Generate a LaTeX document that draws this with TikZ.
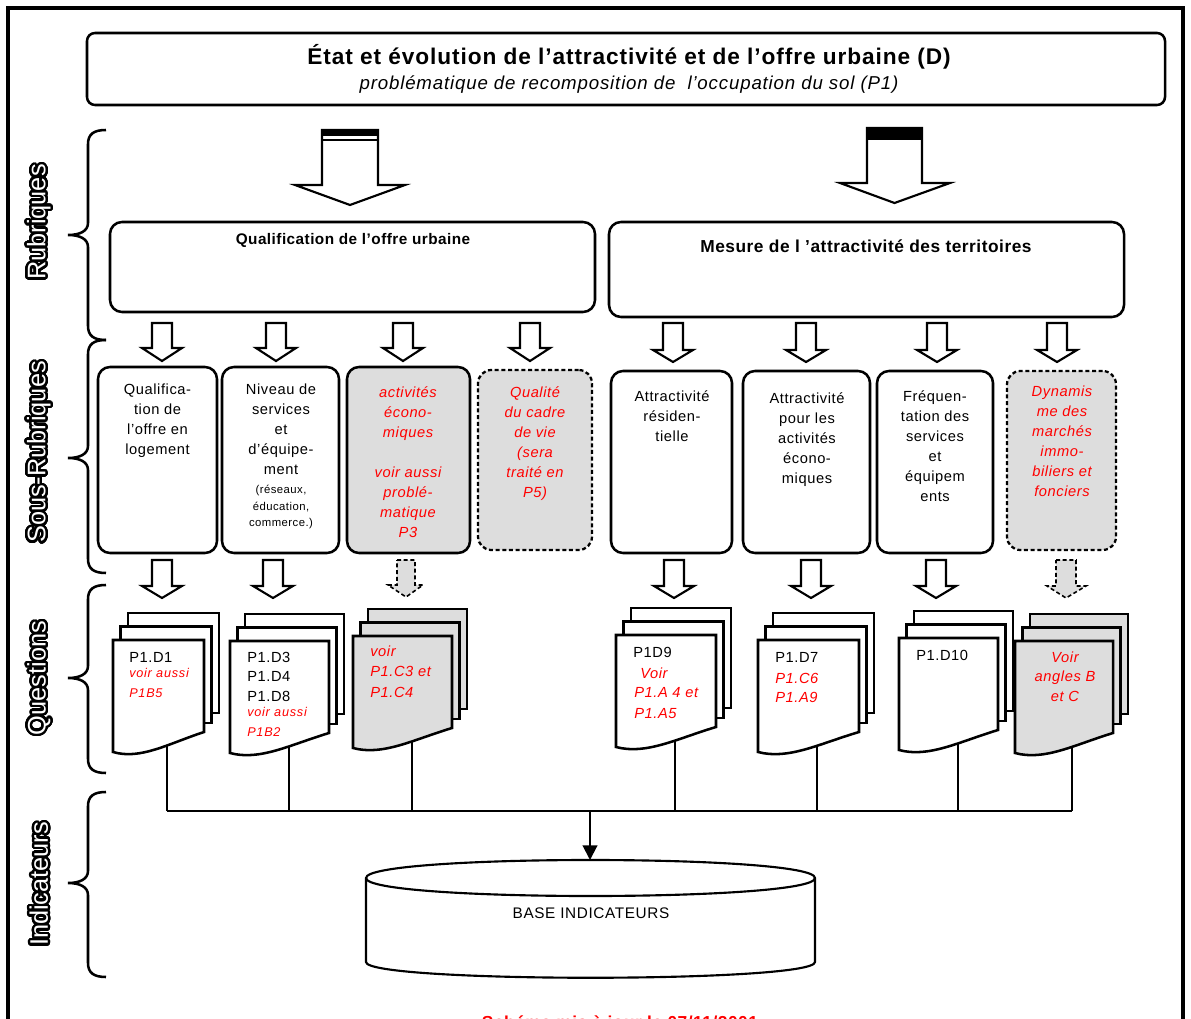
\documentclass[tikz,border=0pt]{standalone}
\usepackage{fontspec}
\setmainfont{Liberation Sans}
\usepackage{contour}
\contourlength{1.8pt}
\contournumber{32}
\usetikzlibrary{arrows.meta}
\definecolor{bgray}{RGB}{221,221,221}
\definecolor{tred}{RGB}{255,0,0}
\newcommand\LS[1]{\addfontfeature{LetterSpace=#1}}
\newcommand\BoxAt[6]{\node[#6, minimum width={(#4-#2)*0.75pt}, minimum height={(#5-#3)*0.75pt}] (#1) at ({(#2+#4)/2},{(#3+#5)/2}) {};}
\newcommand\BArrow[5]{\draw[#5] ({#1-10},#2) -- ({#1+10},#2) -- ({#1+10},#3) -- ({#1+20},#3) -- (#1,#4) -- ({#1-20},#3) -- ({#1-10},#3) -- cycle;}
\newcommand\DocStack[4]{%
  \filldraw[docl, fill=#4] ({#1+15},{#3-27}) rectangle ({#2+15},{#3+73});
  \filldraw[docl, fill=#4] ({#1+7.5},{#3-13.5}) rectangle ({#2+7.5},{#3+83});
  \filldraw[docl, fill=#4] (#1,#3) -- (#2,#3) -- (#2,{#3+92}) .. controls ({#1+0.6*(#2-#1)},{#3+104}) and ({#1+0.3*(#2-#1)},{#3+120}) .. (#1,{#3+112}) -- cycle;}
\newcommand\SideLabel[3]{\node[rotate=90, font=\fontsize{19}{19}\selectfont, inner sep=0pt] (#1) at (40,#2) {\contour{black}{\textcolor{white}{#3}}};}
\newcommand\Brace[4]{%
  \draw[bracel] (106,#2) .. controls (94,#2) and (88,{#2+4}) .. (88,{#2+14}) -- (88,{#3-12}) .. controls (88,{#3-4}) and (80,#3) .. (68,#3) .. controls (80,#3) and (88,{#3+4}) .. (88,{#3+12}) -- (88,{#4-14}) .. controls (88,{#4-4}) and (94,#4) .. (106,#4);
  \coordinate (#1) at (68,#3);}
\begin{document}
\begin{tikzpicture}[x=0.75pt,y=-0.75pt,
  boxl/.style={draw, line width=1.9pt, fill=white, rounded corners=9pt, inner sep=0pt},
  gboxl/.style={boxl, fill=bgray},
  dboxl/.style={draw, line width=1.7pt, fill=bgray, rounded corners=10pt, dash pattern=on 3pt off 2pt, inner sep=0pt},
  arl/.style={draw, line width=1.6pt, fill=white, line join=miter},
  garl/.style={draw, line width=1.2pt, fill=bgray, densely dashed},
  docl/.style={line width=1.9pt, line join=miter},
  bracel/.style={line width=1.9pt},
  conn/.style={line width=1.5pt},
  txt/.style={inner sep=0pt, align=center, font=\fontsize{11}{15}\selectfont\LS{4}},
  rtxt/.style={inner sep=0pt, align=center, text=tred, font=\fontsize{11}{15}\selectfont\itshape\LS{4}},
  dt/.style={anchor=base west, inner sep=0pt, font=\fontsize{11}{13}\selectfont\LS{4}},
  dr/.style={anchor=base west, inner sep=0pt, text=tred, font=\fontsize{11}{13}\selectfont\itshape\LS{4}},
  drs/.style={anchor=base west, inner sep=0pt, text=tred, font=\fontsize{9.5}{11}\selectfont\itshape\LS{6}}]
\useasboundingbox (0,0) rectangle (1191,1019);
% frame
\draw[line width=2.3pt] (8,1040) -- (8,8) -- (1183,8) -- (1183,1040);
% title
\BoxAt{title}{87}{33}{1165}{105}{boxl, rounded corners=6pt}
\node[anchor=base, inner sep=0pt, font=\fontsize{17}{20}\selectfont\bfseries\LS{4}] (t1) at (629,65) {État et évolution de l’attractivité et de l’offre urbaine (D)};
\node[anchor=base, inner sep=0pt, font=\fontsize{14}{16}\selectfont\itshape\LS{4.5}] (t2) at (629,90) {problématique de recomposition de~ l’occupation du sol (P1)};
% braces and side labels
\Brace{br1}{130}{235}{340}
\Brace{br2}{340}{458}{573}
\Brace{br3}{585}{678}{773}
\Brace{br4}{792}{883}{977}
\SideLabel{l1}{222}{Rubriques}
\SideLabel{l2}{452}{Sous-Rubriques}
\SideLabel{l3}{678}{Questions}
\SideLabel{l4}{884}{Indicateurs}
% big arrows
\draw[arl] (322,130) -- (378,130) -- (378,185) -- (405,185) -- (350,205) -- (295,185) -- (322,185) -- cycle;
\fill (322,130) rectangle (378,136);
\draw[line width=1.5pt] (322,140.5) -- (378,140.5);
\draw[arl] (867,128) -- (922,128) -- (922,183) -- (950,183) -- (894.5,203) -- (840,183) -- (867,183) -- cycle;
\fill (867,128) rectangle (922,140);
% rubriques
\BoxAt{rub1}{110}{222}{595}{312}{boxl}
\BoxAt{rub2}{609}{222}{1124}{317}{boxl}
\node[anchor=base, inner sep=0pt, font=\fontsize{11.5}{13}\selectfont\bfseries\LS{3}] (rt1) at (353,245) {Qualification de l’offre urbaine};
\node[anchor=base, inner sep=0pt, font=\fontsize{13}{15}\selectfont\bfseries\LS{3}] (rt2) at (866,252.5) {Mesure de l ’attractivité des territoires};
% row 1 arrows
\foreach \cx in {162,276,403,530} {\BArrow{\cx}{323}{348}{361}{arl}}
\foreach \cx in {673,806,937,1057} {\BArrow{\cx}{323}{350}{362}{arl}}
% sous-rubriques
\BoxAt{s1}{98}{367}{217}{553}{boxl}
\BoxAt{s2}{222}{367}{339}{553}{boxl}
\BoxAt{s3}{347}{367}{470}{553}{gboxl}
\BoxAt{s4}{478}{370}{592}{550}{dboxl}
\BoxAt{s5}{611}{371}{732}{553}{boxl}
\BoxAt{s6}{743}{371}{870}{553}{boxl}
\BoxAt{s7}{877}{371}{993}{553}{boxl}
\BoxAt{s8}{1007}{371}{1116}{550}{dboxl}
\node[txt, anchor=north] (s1t) at (157.5,384) {Qualifica-\\tion de\\l'offre en\\logement};
\node[txt, anchor=north] (s2t) at (281,384) {Niveau de\\services\\et\\d’équipe-\\ment};
\node[txt, anchor=north, font=\fontsize{8.5}{12.5}\selectfont\LS{4}] (s2u) at (281,485) {(réseaux,\\éducation,\\commerce.)};
\node[rtxt, anchor=north] (s3t) at (408,386) {activités\\écono-\\miques\\[15pt]voir aussi\\problé-\\matique\\P3};
\node[rtxt, anchor=north] (s4t) at (535,386) {Qualité\\du cadre\\de vie\\(sera\\traité en\\P5)};
\node[txt, anchor=north] (s5t) at (672,390) {Attractivité\\résiden-\\tielle};
\node[txt, anchor=north] (s6t) at (807,392) {Attractivité\\pour les\\activités\\écono-\\miques};
\node[txt, anchor=north] (s7t) at (935,390) {Fréquen-\\tation des\\services\\et\\équipem\\ents};
\node[rtxt, anchor=north] (s8t) at (1062,386) {Dynamis\\me des\\marchés\\immo-\\biliers et\\fonciers};
% row 2 arrows
\foreach \cx in {162,273,674,811,936} {\BArrow{\cx}{560}{586}{598}{arl}}
\draw[garl] (397,560) -- (415,560) -- (415,585) -- (423,585) -- (406,597) -- (388,585) -- (397,585) -- cycle;
\draw[garl] (1056,560) -- (1076,560) -- (1076,586) -- (1086,586) -- (1066,598) -- (1047,586) -- (1056,586) -- cycle;
% connectors
\foreach \n/\x/\y in {1/167/740, 2/289/741, 3/412/736, 4/675/735, 5/817/740, 6/958/738, 7/1072/741} {
  \coordinate (c\n) at (\x,\y);
  \coordinate (b\n) at (\x,811);
  \draw[conn] (c\n) -- (b\n);
}
\draw[conn] (b1) -- (b7);
\coordinate (bm) at (590,811);
% database
\coordinate (dbtop) at (590,860);
\filldraw[line width=1.6pt, fill=white] (366,878) -- (366,962) .. controls (366,983) and (815,983) .. (815,962) -- (815,878) .. controls (815,854) and (366,854) .. cycle;
\draw[line width=1.6pt] (366,878) .. controls (366,902) and (815,902) .. (815,878);
\node[inner sep=0pt, font=\fontsize{11.5}{13}\selectfont\LS{4}] (dbt) at (591,913) {BASE INDICATEURS};
\draw[conn, -{Triangle[length=11pt, width=11pt]}] (bm) -- (dbtop);
% documents
\DocStack{113}{204}{640}{white}
\DocStack{230}{329}{641}{white}
\DocStack{353}{452}{636}{bgray}
\DocStack{616}{716}{635}{white}
\DocStack{758}{859}{640}{white}
\DocStack{899}{998}{638}{white}
\DocStack{1015}{1113}{641}{bgray}
\node[dt] (q1a) at (129,662) {P1.D1};
\node[drs] (q1b) at (129,677) {voir aussi};
\node[drs] (q1c) at (129,697) {P1B5};
\node[dt] (q2a) at (247,662) {P1.D3};
\node[dt] (q2b) at (247,681) {P1.D4};
\node[dt] (q2c) at (247,701) {P1.D8};
\node[drs] (q2d) at (247,716) {voir aussi};
\node[drs] (q2e) at (247,736) {P1B2};
\node[dr] (q3a) at (370,656) {voir};
\node[dr] (q3b) at (370,676) {P1.C3 et};
\node[dr] (q3c) at (370,697) {P1.C4};
\node[dt] (q5a) at (633,657) {P1D9};
\node[dr] (q5b) at (640,678) {Voir};
\node[dr] (q5c) at (634,697) {P1.A 4 et};
\node[dr] (q5d) at (634,718) {P1.A5};
\node[dt] (q6a) at (775,662) {P1.D7};
\node[dr] (q6b) at (775,683) {P1.C6};
\node[dr] (q6c) at (775,702) {P1.A9};
\node[dt] (q7a) at (916,660) {P1.D10};
\node[dr, anchor=base] (q8a) at (1065,662) {Voir};
\node[dr, anchor=base] (q8b) at (1065,681) {angles B};
\node[dr, anchor=base] (q8c) at (1065,701) {et C};
% bottom note
\node[anchor=base, inner sep=0pt, text=tred, font=\fontsize{13}{15}\selectfont\bfseries\LS{3}] (note) at (620,1028) {Schéma mis à jour le 07/11/2001};
\end{tikzpicture}
\end{document}
